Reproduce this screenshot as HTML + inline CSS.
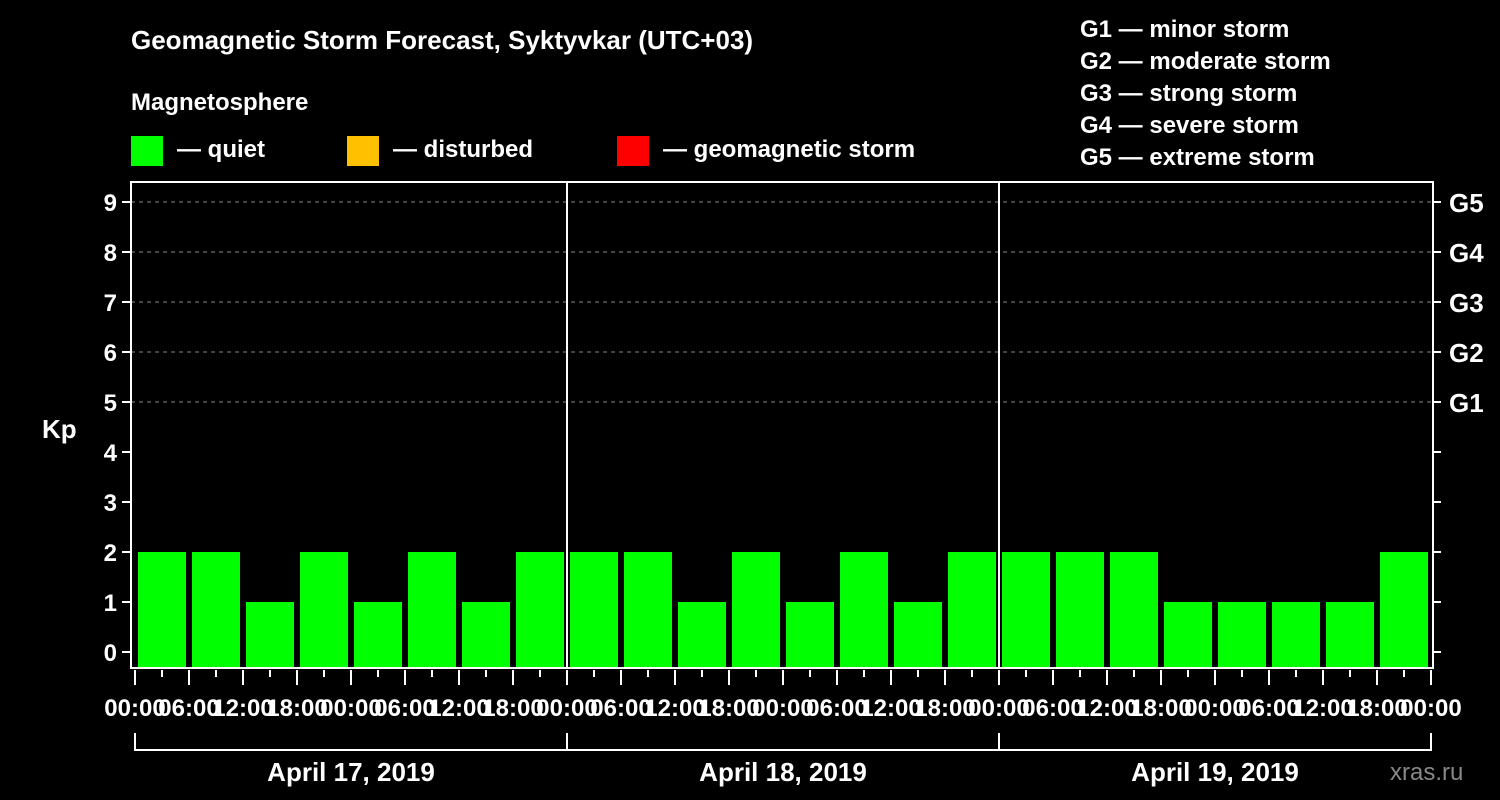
<!DOCTYPE html>
<html><head><meta charset="utf-8"><style>
body{margin:0;background:#000;width:1500px;height:800px;overflow:hidden}
svg{display:block;font-family:"Liberation Sans",Arial,sans-serif;font-weight:bold}
</style></head><body>
<svg id="c" width="1500" height="800">
<rect width="1500" height="800" fill="#000"/>
<text x="131" y="49" fill="#fff" font-size="26">Geomagnetic Storm Forecast, Syktyvkar (UTC+03)</text>
<text x="131" y="110" fill="#fff" font-size="24">Magnetosphere</text>
<rect x="131" y="136" width="32" height="30" fill="#00ff00"/>
<text x="177" y="157" fill="#fff" font-size="24">— quiet</text>
<rect x="347" y="136" width="32" height="30" fill="#ffc000"/>
<text x="393" y="157" fill="#fff" font-size="24">— disturbed</text>
<rect x="617" y="136" width="32" height="30" fill="#ff0000"/>
<text x="663" y="157" fill="#fff" font-size="24">— geomagnetic storm</text>
<g fill="#fff" font-size="24">
<text x="1080" y="37">G1 — minor storm</text>
<text x="1080" y="69">G2 — moderate storm</text>
<text x="1080" y="101">G3 — strong storm</text>
<text x="1080" y="133">G4 — severe storm</text>
<text x="1080" y="165">G5 — extreme storm</text>
</g>
<text x="42" y="438" fill="#fff" font-size="26">Kp</text>
<text x="1390" y="780" fill="#888" font-size="24" font-weight="normal">xras.ru</text>
<g id="g"></g>
</svg>
<script>
const kpValues=[2,2,1,2,1,2,1,2, 2,2,1,2,1,2,1,2, 2,2,2,1,1,1,1,2];
const dayLabels=["April 17, 2019","April 18, 2019","April 19, 2019"];
const hourLabels=["00:00","06:00","12:00","18:00"];
const yTicks=[0,1,2,3,4,5,6,7,8,9];
const gLabels=["G1","G2","G3","G4","G5"];
const NS="http://www.w3.org/2000/svg",g=document.getElementById('g');
const X0=135,X1=1431,L=131,R=1433,T=182,B=668;
const slot=(X1-X0)/kpValues.length;
const y=v=>652-v*50;
const x=i=>X0+i*slot;
function mk(t,a,txt){const e=document.createElementNS(NS,t);for(const k in a)e.setAttribute(k,a[k]);if(txt!=null)e.textContent=txt;g.appendChild(e);return e;}
yTicks.forEach(v=>{
 const e=mk('line',{x1:L-9,x2:L,y1:y(v),y2:y(v),stroke:'#fff','stroke-width':2});
 
 
 const r=mk('line',{x1:R,x2:R+8,y1:y(v),y2:y(v),stroke:'#fff','stroke-width':2});
 
 
 const t=mk('text',{x:L-14,y:y(v)+9,fill:'#fff','font-size':24,'text-anchor':'end'},v);
 
 
 if(v>=5){
  const d=mk('line',{x1:L,x2:R,y1:y(v),y2:y(v),stroke:'#888','stroke-width':1,'stroke-dasharray':'4,4'});
  
  
  const gl=mk('text',{x:1449,y:y(v)+10,fill:'#fff','font-size':26},gLabels[v-5]);
  
  
 }
});
kpValues.forEach((v,i)=>{
 const b=mk('rect',{x:x(i)+3,y:y(v),width:slot-6,height:B-y(v)-1,fill:v>=5?'#ff0000':v>=4?'#ffc000':'#00ff00'});
 
 
});
const f=mk('rect',{x:L,y:T,width:R-L,height:B-T,fill:'none',stroke:'#fff','stroke-width':2});


const perDay=kpValues.length/dayLabels.length, dw=perDay*slot;
for(let d=1;d<dayLabels.length;d++){
 const l=mk('line',{x1:X0+d*dw,x2:X0+d*dw,y1:T,y2:B,stroke:'#fff','stroke-width':2});
 
 
}
for(let k=0;k<=kpValues.length*2;k++){
 const xx=X0+k*slot/2, big=k%2==0;
 const t=mk('line',{x1:xx,x2:xx,y1:B+2,y2:big?685:677,stroke:'#fff','stroke-width':2});
 
 
 if(big){
  const lab=mk('text',{x:xx,y:716,fill:'#fff','font-size':24,'text-anchor':'middle'},hourLabels[(k/2)%4]);
  
  
 }
}
dayLabels.forEach((s,d)=>{
 const a=X0+d*dw,b=a+dw;
 const p=mk('path',{d:`M${a} 733V750H${b}`+(d==dayLabels.length-1?`V733`:''),stroke:'#fff','stroke-width':2,fill:'none'});
 
 
 const t=mk('text',{x:(a+b)/2,y:781,fill:'#fff','font-size':26,'text-anchor':'middle'},s);
 
 
});
</script>
</body></html>
